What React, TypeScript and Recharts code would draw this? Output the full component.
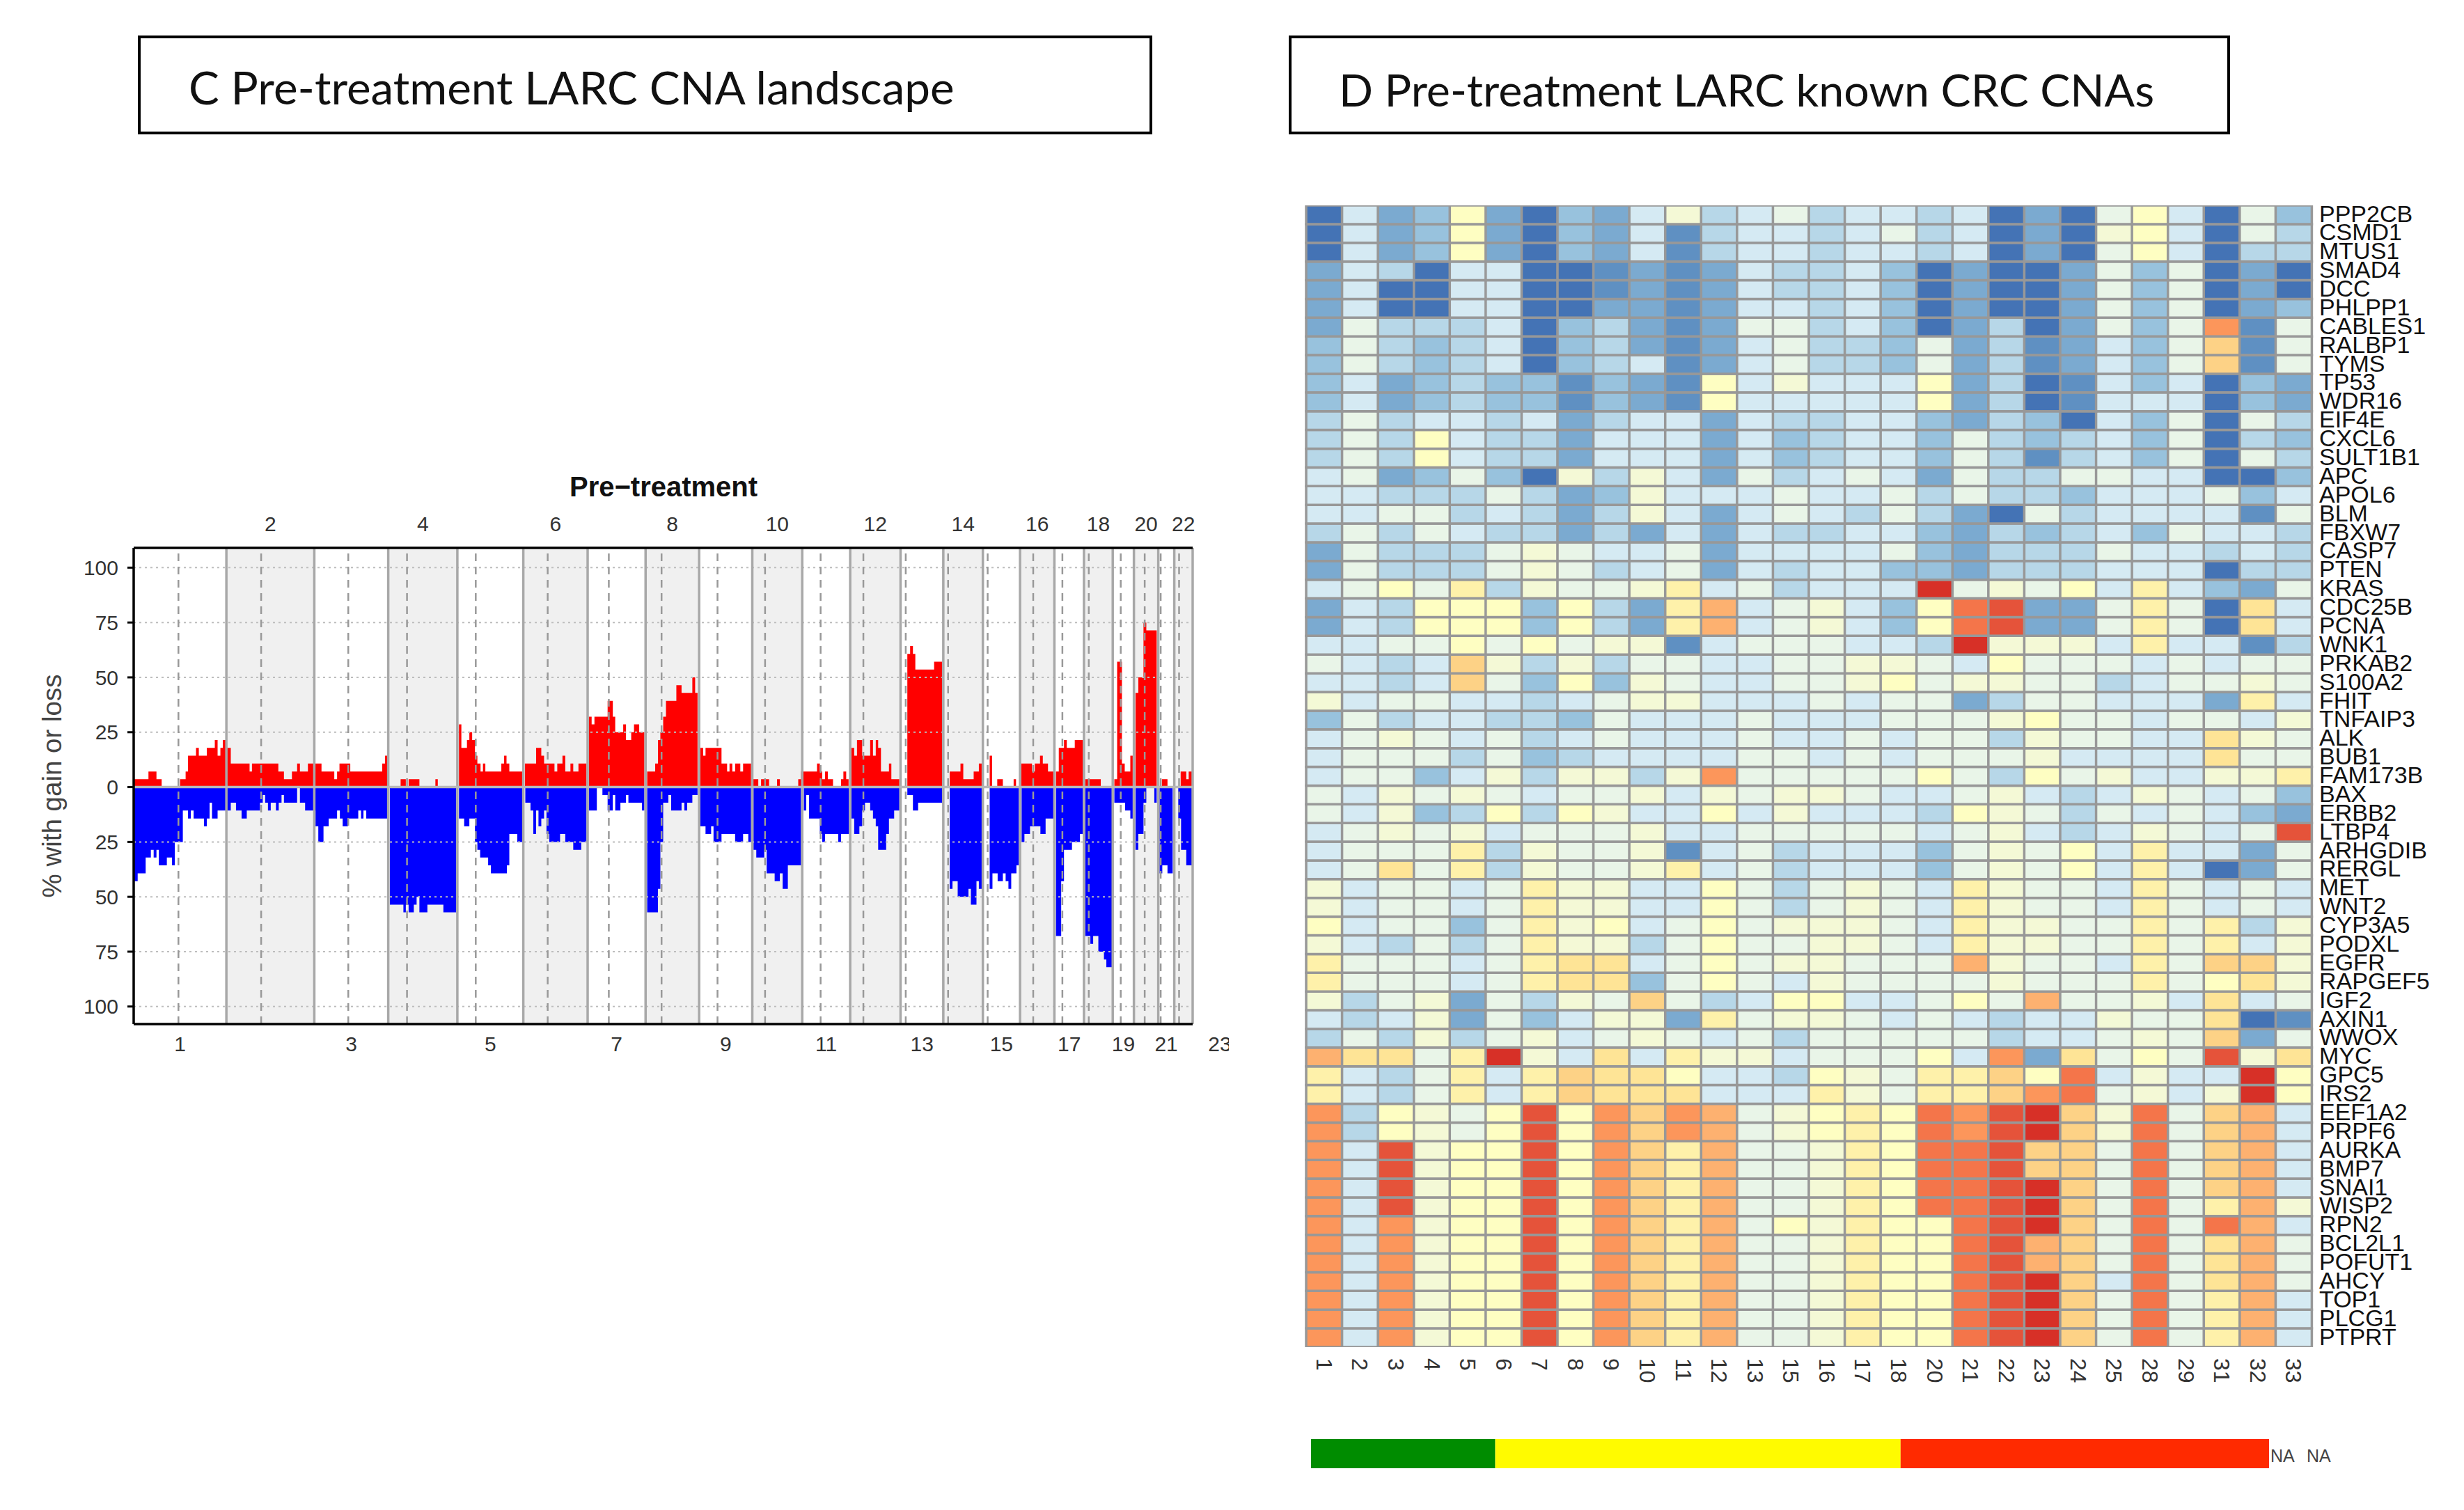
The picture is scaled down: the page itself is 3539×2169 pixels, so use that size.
import React from "react";
import {
  ComposedChart, Area, XAxis, YAxis, ReferenceLine, ReferenceArea,
  BarChart, Bar, Cell,
} from "recharts";

/* ---------- Panel C: genome-wide gain / loss profile ---------- */
const chromBounds = [335, 567, 787, 972, 1145, 1310, 1471, 1616, 1750, 1883, 2008, 2128, 2254, 2361, 2460, 2553, 2639, 2713, 2785, 2838, 2899, 2939, 2985];
const centromeres = [447, 654, 872, 1019, 1191, 1371, 1524, 1656, 1796, 1915, 2054, 2161, 2267, 2373, 2472, 2586, 2659, 2725, 2805, 2865, 2905, 2951];
const percentTicks = [-100, -75, -50, -25, 0, 25, 50, 75, 100];

const GENOME_SECOND_PART = 1533;
// [genome position, % of samples] – each value holds until the next position
const gainsFirstPart = [
  [335,3.6],[372,7.1],[392,3.6],[405,0],[451,3.6],[465,7.1],[471,14.3],[491,17.9],[498,14.3],[518,17.9],[538,21.4],[545,14.3],[552,17.9],[558,21.4],[565,17.9],[578,10.7],[625,7.1],[631,10.7],[697,7.1],[711,3.6],[731,7.1],[744,10.7],[751,7.1],[771,10.7],[805,7.1],[837,3.6],[844,7.1],[850,10.7],[877,7.1],[957,10.7],[964,14.3],[970,0],[1003,3.6],[1016,0],[1023,3.6],[1050,0],[1090,3.6],[1096,0],[1149,28.6],[1155,17.9],[1169,21.4],[1175,25],[1182,21.4],[1189,14.3],[1195,10.7],[1203,7.1],[1209,10.7],[1215,7.1],[1255,10.7],[1262,14.3],[1268,10.7],[1275,7.1],[1308,0],[1314,10.7],[1342,17.9],[1355,14.3],[1362,10.7],[1388,7.1],[1395,10.7],[1408,14.3],[1415,7.1],[1428,10.7],[1435,7.1],[1448,10.7],[1468,0],[1474,32.1],[1481,28.6],[1488,32.1],[1521,39.3],[1534,32.1],
];
const gainsSecondPart = [
  [7,25],[27,28.6],[34,21.4],[47,25],[54,28.6],[67,25],[80,0],[87,7.1],[107,10.7],[114,21.4],[120,25],[127,32.1],[134,39.3],[160,46.4],[173,42.9],[200,50],[207,42.9],[213,0],[220,17.9],[227,14.3],[233,17.9],[273,10.7],[287,7.1],[293,10.7],[300,7.1],[307,10.7],[320,7.1],[327,10.7],[347,0],[352,3.6],[365,0],[372,3.6],[392,0],[412,3.6],[419,0],[465,3.6],[472,7.1],[512,10.7],[519,7.1],[525,3.6],[532,7.1],[539,3.6],[552,0],[572,3.6],[578,7.1],[585,3.6],[591,0],[598,17.9],[605,14.3],[612,21.4],[625,14.3],[645,21.4],[652,14.3],[659,21.4],[665,17.9],[672,7.1],[692,10.7],[698,3.6],[718,0],[738,60.7],[745,64.3],[752,60.7],[758,53.6],[805,57.1],[825,0],[844,7.1],[871,10.7],[878,3.6],[904,7.1],[917,10.7],[924,0],[944,14.3],[950,0],[963,3.6],[977,0],[1004,3.6],[1010,0],[1023,10.7],[1050,7.1],[1057,10.7],[1070,14.3],[1077,10.7],[1090,7.1],[1104,0],[1110,7.1],[1117,17.9],[1130,21.4],[1137,17.9],[1157,21.4],[1177,0],[1183,3.6],[1222,0],[1256,3.6],[1263,57.1],[1275,10.7],[1282,7.1],[1296,14.3],[1302,0],[1309,42.9],[1316,50],[1329,75],[1336,71.4],[1362,0],[1375,3.6],[1389,0],[1422,7.1],[1436,3.6],[1442,7.1],
];
const lossesFirstPart = [
  [335,42.9],[345,39.3],[365,32.1],[378,28.6],[385,32.1],[392,28.6],[398,35.7],[418,32.1],[431,35.7],[438,25],[458,10.7],[471,14.3],[478,10.7],[485,14.3],[511,17.9],[518,14.3],[525,7.1],[531,14.3],[545,10.7],[578,7.1],[591,10.7],[605,14.3],[618,10.7],[651,7.1],[658,3.6],[664,7.1],[671,10.7],[678,7.1],[691,10.7],[698,7.1],[705,3.6],[711,7.1],[744,0],[751,7.1],[764,10.7],[790,17.9],[797,25],[810,17.9],[823,14.3],[844,10.7],[851,14.3],[858,17.9],[871,14.3],[897,10.7],[904,14.3],[910,10.7],[917,14.3],[970,0],[976,53.6],[1010,57.1],[1016,53.6],[1023,57.1],[1036,53.6],[1043,50],[1050,57.1],[1070,53.6],[1110,57.1],[1142,0],[1149,14.3],[1162,17.9],[1175,14.3],[1189,25],[1195,28.6],[1202,32.1],[1222,35.7],[1229,39.3],[1269,35.7],[1275,21.4],[1295,25],[1308,0],[1315,7.1],[1328,10.7],[1335,21.4],[1342,10.7],[1348,17.9],[1355,14.3],[1362,10.7],[1368,21.4],[1375,25],[1402,21.4],[1415,25],[1435,28.6],[1455,25],[1468,0],[1474,10.7],[1494,0],[1508,3.6],[1521,10.7],[1534,3.6],
];
const lossesSecondPart = [
  [7,10.7],[20,7.1],[34,3.6],[40,7.1],[74,10.7],[80,0],[87,57.1],[114,46.4],[120,25],[127,7.1],[140,3.6],[147,10.7],[173,7.1],[180,10.7],[187,7.1],[200,3.6],[213,0],[220,17.9],[233,21.4],[247,17.9],[253,25],[273,21.4],[307,25],[327,21.4],[340,25],[347,0],[353,28.6],[360,32.1],[380,28.6],[386,39.3],[406,42.9],[419,39.3],[426,46.4],[439,35.7],[472,0],[479,10.7],[485,3.6],[492,14.3],[519,21.4],[525,25],[532,21.4],[565,25],[572,21.4],[592,0],[598,14.3],[605,21.4],[618,17.9],[625,10.7],[632,7.1],[645,10.7],[652,14.3],[659,17.9],[665,28.6],[685,21.4],[692,14.3],[705,10.7],[718,0],[738,3.6],[752,10.7],[765,7.1],[825,0],[844,46.4],[851,42.9],[864,50],[891,46.4],[897,53.6],[911,42.9],[917,46.4],[924,0],[944,46.4],[951,39.3],[964,42.9],[977,39.3],[984,42.9],[991,46.4],[998,39.3],[1011,35.7],[1017,0],[1024,25],[1031,21.4],[1045,17.9],[1071,21.4],[1084,14.3],[1104,0],[1110,67.9],[1123,42.9],[1130,28.6],[1150,25],[1170,21.4],[1177,0],[1183,67.9],[1196,71.4],[1203,67.9],[1216,75],[1230,78.6],[1236,82.1],[1250,0],[1256,7.1],[1283,10.7],[1296,14.3],[1302,0],[1309,28.6],[1316,21.4],[1329,7.1],[1336,0],[1356,7.1],[1362,0],[1369,39.3],[1376,35.7],[1389,39.3],[1402,0],[1416,14.3],[1423,28.6],[1436,35.7],
];

/* ---------- Panel D: known CRC CNA heat map ---------- */
const sampleIds = ["1","2","3","4","5","6","7","8","9","10","11","12","13","15","16","17","18","20","21","22","23","24","25","28","29","31","32","33"];
const geneNames = ["PPP2CB","CSMD1","MTUS1","SMAD4","DCC","PHLPP1","CABLES1","RALBP1","TYMS","TP53","WDR16","EIF4E","CXCL6","SULT1B1","APC","APOL6","BLM","FBXW7","CASP7","PTEN","KRAS","CDC25B","PCNA","WNK1","PRKAB2","S100A2","FHIT","TNFAIP3","ALK","BUB1","FAM173B","BAX","ERBB2","LTBP4","ARHGDIB","RERGL","MET","WNT2","CYP3A5","PODXL","EGFR","RAPGEF5","IGF2","AXIN1","WWOX","MYC","GPC5","IRS2","EEF1A2","PRPF6","AURKA","BMP7","SNAI1","WISP2","RPN2","BCL2L1","POFUT1","AHCY","TOP1","PLCG1","PTPRT"];
const levelColours: Record<string, string> = {
  a:"#4473b5", b:"#5f90c2", c:"#7baad0", d:"#98c2dd", e:"#b7d7e8", f:"#d5eaf3", g:"#e9f5e8", h:"#f4f9d6", i:"#fefec2",
  j:"#fef1aa", k:"#fee496", l:"#fdd286", m:"#fdb170", n:"#fc965b", o:"#f4754a", p:"#e5533a", q:"#d73027",
};
// one letter per sample, one line per gene
const geneLevels = [
  "afcdicadcfhefgeff efacagifagd","afcdicadcfbeffefg efacahifage","afcdicadcfbeffeff efacagifaee",
  "cfeaffaabcbcfeefd acaacgdgaca","cfaaffaabcbcfeefd acaacgdgaca","cfaaffaaccbcffefd acaacgdgacd",
  "cgeeefadecbcggefd aceacgdgnbg","dgedefadecbcfgeed gcebcfdglbg","dgedefadefbcfgeed gcebcfdglbg",
  "dfcdeddbdcbifhfff iceabfdfadc","dfcdeddbdcbifffff iceabfffadc","egeffefceffcfeeff dcedafdgage",
  "egeifeecfffcfdeff dgedefdgaed","egeifeecfffcfdeff dgebefdgage","fgcdgdahehfcgefgf cgeeggffaad",
  "ffeeegecdhfffgffg egeedfffgdf","ffggefecehfcfgfeg ecageffffbg","egegfeececfcfeeff dcedefdgffe",
  "cgeeeghgffgcffffg dceeegffefe","cgeeeghgefgcfeffd dceeefffaee","fgigjehgghjfgefff qghgifjfdcg",
  "cfeiiidiecjmfghfd iopccgjgakf","cfeiiidiecjmfghfd iopccgjgakf","ffggigighhbfgggff eqhhhfjffbe",
  "gfeflheheggffgghh gfigggfgfgg","ffeflgdidhgffgghi ghhggefgghg","hfggffefghhfffgfg gceggfffcjf",
  "dgeffeedgfffgfffg gghiggfggfh","fghgfgefgfffgffgf ggehggffkhg","fgggegdeffffggfgf ggghffffkgg",
  "fggdfhehhehnggggg igeighffhhj","gfhghgfgghfhghhgf fghfefhgfgd","gfhdeieihffifhfff eihgegfgfdc",
  "fghghfggghffggggg fghfefhgfgp","fgggjehgghbfgefff dghgifjffcg","fgkgjehgghjfgefff dghgifjfacg",
  "hfggfgjhhffigeghg fjhggfjgfgf","hfggfgjhhffigeghg fjhggfjgfgf","ifggdgjhifgighhhg fjhhggjgjeh",
  "hfegegjhhegigghhg fjhhggjgjfh","jgggfgjkkfgighhgg gmhggfjgllh","jgggfgjkkdgigfhgg gghgggjgikh",
  "heghcgehglgefiiff gigmgghfkfg","fefhcgdfhhcjghhgf gfeffhggkab","egeheghfghgfgeggg ggeffghglcg",
  "mkkgjqhfkfjhhfggg ifnckgigphk","jfegjfjlkkiffeihg jjliofhffqi","jfegjfjlkkkfffjhg jjlnoghfhqi",
  "neihgipinlnmghiji onpqlhoglmf","neihgipinlnmghiji onpqlhoglmf","nfphiipinljmgghji oopllgoglmf",
  "nfphiipinljmgghji oopllgoglmf","nfphiipinljmgghji oopqlgoglmf","nfphiipinljmgghji oopqlgogjmh",
  "nfnhiipinljmgihji iopqlgogomf","nfnhiipinljmgghji iopmlgogkmg","nfnhiipinljmgghji iopmlgogkmg",
  "nfnhiipinljmgghji iopqlfogkmg","nfnhiipinljmgghji iopqlgogjmf","nfnhiipinljmgghji iopqlgogjmf",
  "nfnhiipinljmgghji iopqlgogjmf",
].map((s) => s.replace(" ", ""));

const sidebarGroups = ["green", "yellow", "red"];
const sidebarCounts = [5, 11, 10];
const sidebarColours = ["#008c00", "#fffb00", "#ff2a00"];

/* ---------- tables built from the arrays ---------- */
const gains = [...gainsFirstPart, ...gainsSecondPart.map(([p, v]) => [p + GENOME_SECOND_PART, v])];
const losses = [...lossesFirstPart, ...lossesSecondPart.map(([p, v]) => [p + GENOME_SECOND_PART, v])];
const genomeEnd = chromBounds[chromBounds.length - 1];
const positions = Array.from(new Set([...gains.map((d) => d[0]), ...losses.map((d) => d[0]), genomeEnd])).sort((a, b) => a - b);
const holdAt = (list: number[][], pos: number) => {
  let value = 0;
  for (const [p, v] of list) { if (p <= pos) value = v; else break; }
  return value;
};
const profile = positions.map((pos) => ({ pos, gain: holdAt(gains, pos), loss: -holdAt(losses, pos) }));
const chromMids = chromBounds.slice(0, -1).map((b, i) => (b + chromBounds[i + 1]) / 2);
const oddTicks = [...chromMids.filter((_, i) => i % 2 === 0), 3053];
const evenTicks = chromMids.filter((_, i) => i % 2 === 1);
const oddNames = new Map(oddTicks.map((t, i) => [t, String(2 * i + 1)]));
const evenNames = new Map(evenTicks.map((t, i) => [t, String(2 * i + 2)]));

const heatTable = sampleIds.map((col) => {
  const row: Record<string, any> = { col };
  geneNames.forEach((_, i) => { row["g" + i] = 1; });
  return row;
});
const geneTicks = geneNames.map((_, i) => geneNames.length - 1 - i + 0.5);
const sidebarTable = [Object.fromEntries([["name", "group"], ...sidebarGroups.map((g, i) => [g, sidebarCounts[i]])])];

const SANS = "'Liberation Sans', Arial, sans-serif";
const GREY = "#a8a8a8";
const GRID = "#989898";

const SampleTick = ({ x, y, payload }: any) => (
  <text x={x} y={y} transform={`rotate(90 ${x} ${y})`} textAnchor="start" dominantBaseline="central"
    fontFamily={SANS} fontSize={32} fill="#333">{payload.value}</text>
);

const box = (left: number, width: number): React.CSSProperties => ({
  position: "absolute", left, top: 51, width, height: 142, boxSizing: "border-box",
  border: "4px solid #000", background: "#fff",
});
const titleStyle = (left: number, top: number, size: number): React.CSSProperties => ({
  position: "absolute", left, top, fontFamily: "Lato, sans-serif", fontSize: size, lineHeight: "72px",
  color: "#111", whiteSpace: "nowrap",
});

export default function App() {
  return (
    <div style={{ position: "absolute", left: 0, top: 0, width: 3539, height: 2169, background: "#fff", overflow: "hidden", fontFamily: SANS }}>
      <div style={box(198, 1457)} />
      <div style={titleStyle(271, 89, 65.6)}>C Pre-treatment LARC CNA landscape</div>
      <div style={box(1851, 1352)} />
      <div style={titleStyle(1923, 92, 64.5)}>D Pre-treatment LARC known CRC CNAs</div>

      <div style={{ position: "absolute", left: 818, top: 676, fontFamily: SANS, fontWeight: 700, fontSize: 40, lineHeight: "46px", color: "#111", whiteSpace: "nowrap" }}>Pre−treatment</div>
      <div style={{ position: "absolute", left: 75, top: 1129, width: 0, height: 0 }}>
        <div style={{ position: "absolute", transform: "translate(-50%,-50%) rotate(-90deg)", fontSize: 38.5, color: "#444", whiteSpace: "nowrap" }}>% with gain or loss</div>
      </div>

      <div style={{ position: "absolute", left: 0, top: 700 }}>
        <ComposedChart width={1765} height={830} data={profile} margin={{ top: 0, right: 52, bottom: 0, left: 0 }}>
          <XAxis xAxisId={0} dataKey="pos" type="number" domain={[335, genomeEnd]} allowDataOverflow orientation="bottom"
            ticks={oddTicks} interval={0} height={59} tickLine={false} tickMargin={12}
            axisLine={{ stroke: "#000", strokeWidth: 3.5 }}
            tick={{ fontSize: 30, fontFamily: SANS, fill: "#333" }} tickFormatter={(t: number) => oddNames.get(t) ?? ""} />
          <XAxis xAxisId="top" dataKey="pos" type="number" domain={[335, genomeEnd]} allowDataOverflow orientation="top"
            ticks={evenTicks} interval={0} height={87} tickLine={false} tickMargin={18}
            axisLine={{ stroke: "#000", strokeWidth: 3.5 }}
            tick={{ fontSize: 30, fontFamily: SANS, fill: "#333" }} tickFormatter={(t: number) => evenNames.get(t) ?? ""} />
          <YAxis type="number" domain={[-108, 109]} allowDataOverflow ticks={percentTicks} interval={0} width={192}
            tickSize={9} tickMargin={13} axisLine={{ stroke: "#000", strokeWidth: 3.5 }} tickLine={{ stroke: "#000", strokeWidth: 3 }}
            tick={{ fontSize: 30, fontFamily: SANS, fill: "#333" }} tickFormatter={(t: number) => String(Math.abs(t))} />
          {chromBounds.slice(0, -1).map((b, i) => i % 2 === 1 ? (
            <ReferenceArea key={"shade" + i} x1={b} x2={chromBounds[i + 1]} fill="#f0f0f0" fillOpacity={1} stroke="none" />
          ) : null)}
          {percentTicks.filter((t) => t !== 0).map((t) => (
            <ReferenceLine key={"grid" + t} y={t} stroke="#bdbdbd" strokeWidth={2} strokeDasharray="3 5" />
          ))}
          <Area dataKey="gain" type="stepAfter" fill="#ff0000" fillOpacity={1} stroke="none" isAnimationActive={false} dot={false} activeDot={false} />
          <Area dataKey="loss" type="stepAfter" fill="#0000ff" fillOpacity={1} stroke="none" isAnimationActive={false} dot={false} activeDot={false} />
          {centromeres.map((c) => (
            <ReferenceLine key={"cen" + c} x={c} stroke="#999" strokeWidth={2.5} strokeDasharray="11 8" />
          ))}
          {chromBounds.slice(1).map((b) => (
            <ReferenceLine key={"chr" + b} x={b} stroke={GREY} strokeWidth={3.5} />
          ))}
          <ReferenceLine y={0} stroke="#b8b8b8" strokeWidth={3.5} />
        </ComposedChart>
      </div>

      <div style={{ position: "absolute", left: 1872, top: 291 }}>
        <BarChart width={1660} height={1720} data={heatTable} barCategoryGap={0} barGap={0}
          margin={{ top: 4, right: 0, bottom: 0, left: 4 }} style={{ overflow: "visible" }}>
          <XAxis dataKey="col" type="category" interval={0} height={76} tickLine={false} axisLine={false} tickMargin={10} tick={<SampleTick />} />
          <YAxis type="number" domain={[0, geneNames.length]} allowDataOverflow orientation="right" ticks={geneTicks} interval={0}
            width={212} tickLine={false} axisLine={false} tickSize={0} tickMargin={11}
            tick={{ fontSize: 34, fontFamily: SANS, fill: "#111", dy: -2 }}
            tickFormatter={(t: number) => geneNames[geneNames.length - 1 - Math.floor(t)]} />
          {geneNames.map((_, i) => geneNames.length - 1 - i).map((g) => (
            <Bar key={g} dataKey={"g" + g} stackId="heat" isAnimationActive={false}>
              {sampleIds.map((s, j) => (
                <Cell key={s} fill={levelColours[geneLevels[g][j]]} stroke={GRID} strokeWidth={3.5} />
              ))}
            </Bar>
          ))}
        </BarChart>
      </div>

      <div style={{ position: "absolute", left: 1883, top: 2067 }}>
        <BarChart width={1376} height={42} layout="vertical" data={sidebarTable} barCategoryGap={0} margin={{ top: 0, right: 0, bottom: 0, left: 0 }}>
          <XAxis type="number" hide domain={[0, 26]} />
          <YAxis type="category" dataKey="name" hide />
          {sidebarGroups.map((g, i) => (
            <Bar key={g} dataKey={g} stackId="side" fill={sidebarColours[i]} isAnimationActive={false} />
          ))}
        </BarChart>
      </div>
      <div style={{ position: "absolute", left: 3261, top: 2077, fontSize: 25, lineHeight: "28px", color: "#444" }}>NA</div>
      <div style={{ position: "absolute", left: 3313, top: 2077, fontSize: 25, lineHeight: "28px", color: "#444" }}>NA</div>
    </div>
  );
}
